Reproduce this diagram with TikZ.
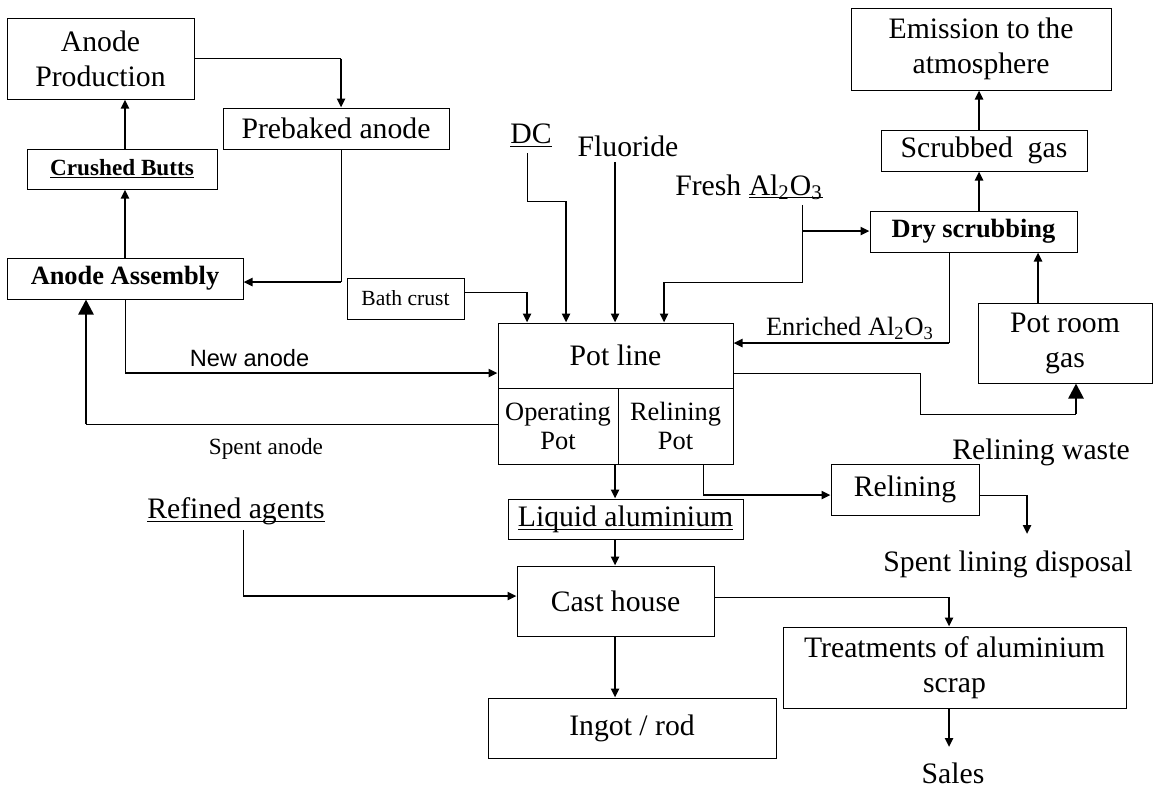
\documentclass[tikz,border=0pt]{standalone}
\usepackage{fontspec}
\setmainfont{Liberation Serif}
\newfontfamily\arialfont{Liberation Sans}
\usetikzlibrary{arrows.meta}

\def\fbig{\fontsize{14.85}{17.5}\selectfont}
\def\fmid{\fontsize{13.2}{14.5}\selectfont}
\def\fsml{\fontsize{11.6}{13}\selectfont}
\def\ftny{\fontsize{10.8}{12}\selectfont}
\def\ul#1{\vphantom{#1}\underline{\smash{#1}}}
\def\feed#1#2{\draw[line width=0.5pt] #1 -- #2;}
\def\flow#1#2{\draw[->] #1 -- #2;}
\def\bigflow#1#2{\draw[-{Triangle[length=7.5pt,width=7.5pt]}] #1 -- #2;}

\tikzset{
  blk/.style={draw,line width=0.5pt,inner sep=0pt,align=center,font=\fbig},
  lbl/.style={inner sep=2pt,font=\fbig}
}

\begin{document}
\begin{tikzpicture}[x=0.5pt,y=-0.5pt,>={Triangle[length=4.5pt,width=4pt]},line width=1.3pt]
\useasboundingbox (0,0) rectangle (1154,789);
% boxes
\node[blk,minimum width=93.5pt,minimum height=40.5pt] (AP) at (100.5,58.5) {Anode\\Production};
\node[blk,minimum width=113pt,minimum height=20.5pt] (PB) at (336,128.5) {Prebaked anode};
\node[blk,minimum width=95pt,minimum height=20pt,font=\fsml\bfseries] (CB) at (122,169) {\ul{Crushed Butts}};
\node[blk,minimum width=118pt,minimum height=20.5pt,font=\fmid\bfseries] (AA) at (125,278.5) {Anode Assembly};
\node[blk,minimum width=58.5pt,minimum height=20.5pt,font=\ftny] (BC) at (405.5,298.5) {Bath crust};
\node[blk,minimum width=117.5pt,minimum height=32.5pt] (PL) at (615.5,355.5) {Pot line};
\node[blk,minimum width=60pt,minimum height=38pt,font=\fmid] (OP) at (558,426) {Operating\\Pot};
\node[blk,minimum width=57.5pt,minimum height=38pt,font=\fmid] (RP) at (675.5,426) {Relining\\Pot};
\node[blk,minimum width=130pt,minimum height=41pt] (EM) at (981,49) {Emission to the\\atmosphere};
\node[blk,minimum width=103pt,minimum height=20.5pt] (SG) at (984,150.5) {Scrubbed\ \ gas};
\node[blk,minimum width=103.5pt,minimum height=20.5pt,font=\fmid\bfseries] (DS) at (973.5,231.5) {Dry scrubbing};
\node[blk,minimum width=87pt,minimum height=40pt] (PR) at (1065,343) {Pot room\\gas};
\node[blk,minimum width=74pt,minimum height=25.5pt] (RL) at (905,489.5) {Relining};
\node[blk,minimum width=117.5pt,minimum height=20pt] (LA) at (625.5,519) {\ul{Liquid aluminium}};
\node[blk,minimum width=98.5pt,minimum height=35pt] (CH) at (615.5,601) {Cast house};
\node[blk,minimum width=144pt,minimum height=30pt] (IR) at (632,728) {Ingot / rod};
\node[blk,minimum width=171.5pt,minimum height=40.5pt] (TS) at (954.5,667.5) {Treatments of aluminium\\scrap};
% free labels
\node[lbl] (DC) at (531,136) {\ul{DC}};
\node[lbl] (FL) at (628,146) {Fluoride};
\node[lbl] (FA) at (749,187) {Fresh \ul{Al}\ul{\textsubscript{2}}\ul{O}\ul{\textsubscript{3}}};
\node[lbl,font=\fmid] (EA) at (850,328) {Enriched Al\textsubscript{2}O\textsubscript{3}};
\node[lbl] (RW) at (1041,452) {Relining waste};
\node[lbl] (SL) at (1008,564) {Spent lining disposal};
\node[lbl] (SA) at (953,773) {Sales};
\node[lbl] (RA) at (236,511) {\ul{Refined agents}};
\node[lbl,font=\arialfont\fontsize{11.8}{13}\selectfont] (NA) at (249.5,358) {New anode};
\node[lbl,font=\fsml] (SP) at (266,449) {Spent anode};
% bends
\coordinate (a1) at (341,58.5);
\coordinate (b1) at (341,282);
\coordinate (e1) at (125,373);
\coordinate (f1) at (86,424);
\coordinate (g1) at (527,292);
\coordinate (h1) at (527,201);
\coordinate (h2) at (566,201);
\coordinate (i1) at (615,160);
\coordinate (j1) at (802,282);
\coordinate (j2) at (664,282);
\coordinate (j3) at (802,231);
\coordinate (k1) at (949,343);
\coordinate (l1) at (1038,303);
\coordinate (m1) at (979,0);
\coordinate (n1) at (920,373);
\coordinate (n2) at (920,414);
\coordinate (n3) at (1076,414);
\coordinate (o1) at (615,0);
\coordinate (p1) at (703,495);
\coordinate (q1) at (1027,495);
\coordinate (q2) at (1027,534);
\coordinate (r1) at (243,596);
\coordinate (u1) at (949,597);
\coordinate (v1) at (949,747);
% anode loop
\feed{(AP.east)}{(a1)}
\flow{(a1)}{(a1 |- PB.north)}
\feed{(b1 |- PB.south)}{(b1)}
\flow{(b1)}{(b1 -| AA.east)}
\flow{(AA.north)}{(AA.north |- CB.south)}
\flow{(AA.north |- CB.north)}{(AA.north |- AP.south)}
\feed{(AA.south)}{(e1)}
\flow{(e1)}{(e1 -| PL.west)}
\feed{(f1 -| OP.west)}{(f1)}
\bigflow{(f1)}{(f1 |- AA.south)}
% inputs to pot line
\feed{(g1 -| BC.east)}{(g1)}
\flow{(g1)}{(g1 |- PL.north)}
\draw[line width=0.5pt] (h1 |- DC.south) -- (h1) -- (h2);
\flow{(h2)}{(h2 |- PL.north)}
\flow{(i1 |- FL.south)}{(i1 |- PL.north)}
\draw[line width=0.5pt] (j1 |- FA.south) -- (j1) -- (j2);
\flow{(j2)}{(j2 |- PL.north)}
\flow{(j3)}{(j3 -| DS.west)}
% gas side
\feed{(k1 |- DS.south)}{(k1)}
\flow{(k1)}{(k1 -| PL.east)}
\flow{(l1 |- PR.north)}{(l1 |- DS.south)}
\flow{(m1 |- DS.north)}{(m1 |- SG.south)}
\flow{(m1 |- SG.north)}{(m1 |- EM.south)}
\draw[line width=0.5pt] (n1 -| PL.east) -- (n1) -- (n2) -- (n3);
\bigflow{(n3)}{(n3 |- PR.south)}
% metal side
\flow{(o1 |- OP.south)}{(o1 |- LA.north)}
\flow{(o1 |- LA.south)}{(o1 |- CH.north)}
\flow{(o1 |- CH.south)}{(o1 |- IR.north)}
\feed{(p1 |- RP.south)}{(p1)}
\flow{(p1)}{(p1 -| RL.west)}
\feed{(q1 -| RL.east)}{(q1)}
\flow{(q1)}{(q2)}
\feed{(r1 |- RA.south)}{(r1)}
\flow{(r1)}{(r1 -| CH.west)}
\feed{(u1 -| CH.east)}{(u1)}
\flow{(u1)}{(u1 |- TS.north)}
\flow{(u1 |- TS.south)}{(v1)}
\end{tikzpicture}
\end{document}
